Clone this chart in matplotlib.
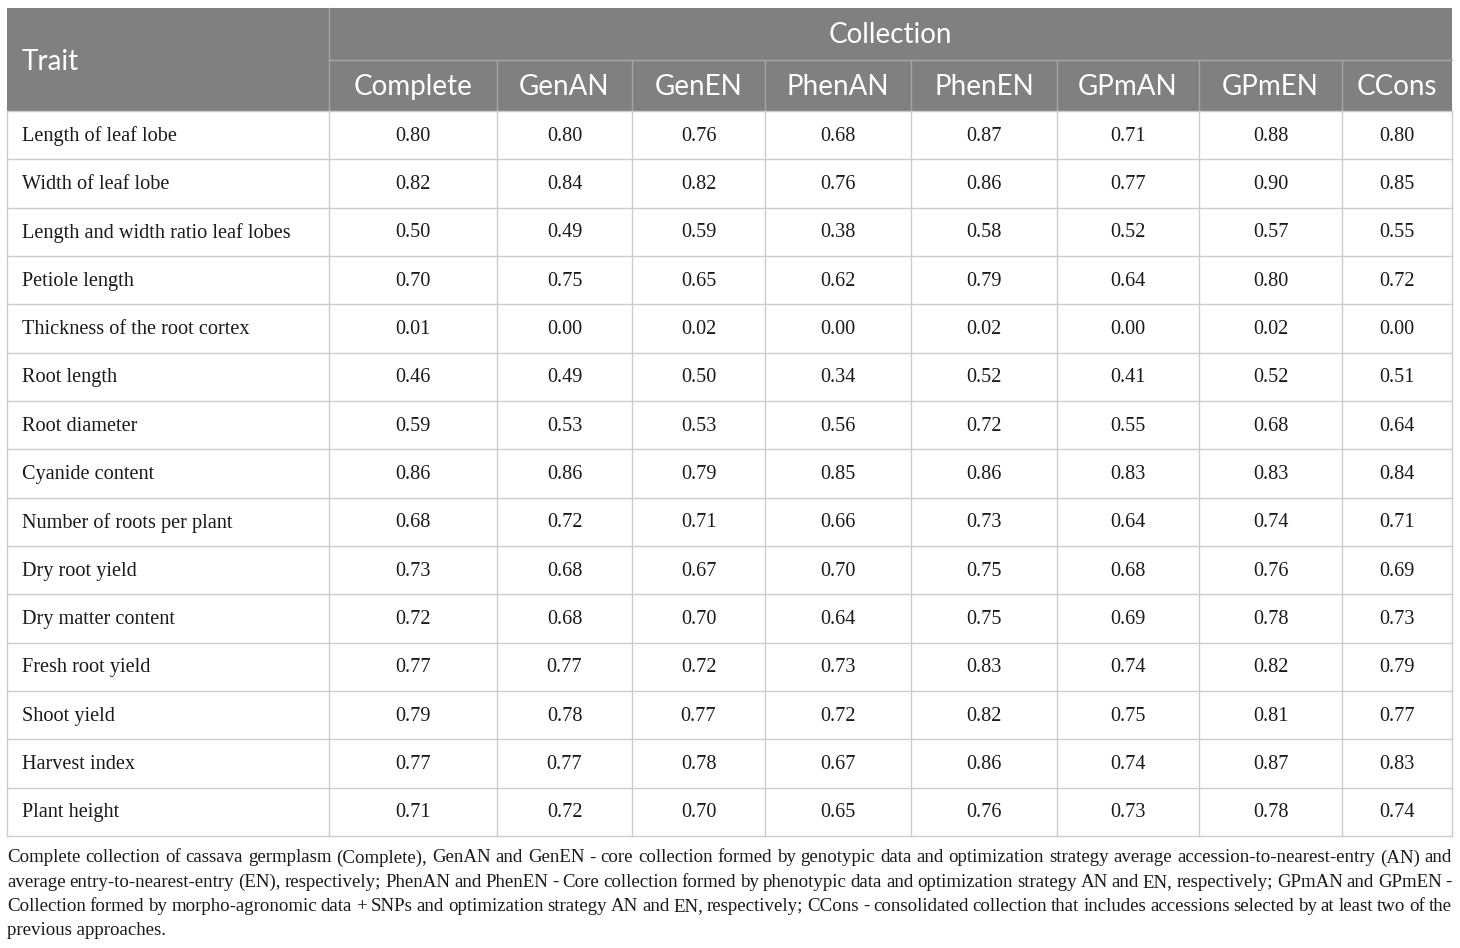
import matplotlib
matplotlib.use("Agg")
import matplotlib.pyplot as plt
from matplotlib.patches import Rectangle

traits = ["Length of leaf lobe", "Width of leaf lobe", "Length and width ratio leaf lobes",
          "Petiole length", "Thickness of the root cortex", "Root length", "Root diameter",
          "Cyanide content", "Number of roots per plant", "Dry root yield", "Dry matter content",
          "Fresh root yield", "Shoot yield", "Harvest index", "Plant height"]
collections = ["Complete", "GenAN", "GenEN", "PhenAN", "PhenEN", "GPmAN", "GPmEN", "CCons"]

complete = [0.80, 0.82, 0.50, 0.70, 0.01, 0.46, 0.59, 0.86, 0.68, 0.73, 0.72, 0.77, 0.79, 0.77, 0.71]
gen_an   = [0.80, 0.84, 0.49, 0.75, 0.00, 0.49, 0.53, 0.86, 0.72, 0.68, 0.68, 0.77, 0.78, 0.77, 0.72]
gen_en   = [0.76, 0.82, 0.59, 0.65, 0.02, 0.50, 0.53, 0.79, 0.71, 0.67, 0.70, 0.72, 0.77, 0.78, 0.70]
phen_an  = [0.68, 0.76, 0.38, 0.62, 0.00, 0.34, 0.56, 0.85, 0.66, 0.70, 0.64, 0.73, 0.72, 0.67, 0.65]
phen_en  = [0.87, 0.86, 0.58, 0.79, 0.02, 0.52, 0.72, 0.86, 0.73, 0.75, 0.75, 0.83, 0.82, 0.86, 0.76]
gpm_an   = [0.71, 0.77, 0.52, 0.64, 0.00, 0.41, 0.55, 0.83, 0.64, 0.68, 0.69, 0.74, 0.75, 0.74, 0.73]
gpm_en   = [0.88, 0.90, 0.57, 0.80, 0.02, 0.52, 0.68, 0.83, 0.74, 0.76, 0.78, 0.82, 0.81, 0.87, 0.78]
ccons    = [0.80, 0.85, 0.55, 0.72, 0.00, 0.51, 0.64, 0.84, 0.71, 0.69, 0.73, 0.79, 0.77, 0.83, 0.74]
columns = [complete, gen_an, gen_en, phen_an, phen_en, gpm_an, gpm_en, ccons]

caption = [
    "Complete collection of cassava germplasm (Complete), GenAN and GenEN - core collection formed by genotypic data and optimization strategy average accession-to-nearest-entry (AN) and",
    "average entry-to-nearest-entry (EN), respectively; PhenAN and PhenEN - Core collection formed by phenotypic data and optimization strategy AN and EN, respectively; GPmAN and GPmEN -",
    "Collection formed by morpho-agronomic data + SNPs and optimization strategy AN and EN, respectively; CCons - consolidated collection that includes accessions selected by at least two of the",
    "previous approaches.",
]

W, H = 1460, 948
fig = plt.figure(figsize=(W / 100, H / 100), dpi=100)
ax = fig.add_axes([0, 0, 1, 1])
ax.set_xlim(0, W)
ax.set_ylim(H, 0)
ax.axis("off")

# column edges in pixels
xs = [7, 329, 497, 632, 765, 911, 1057, 1199, 1342, 1452]
top, h1, h2, bottom = 8, 60, 111, 836
nrows = len(traits)
rh = (bottom - h2) / nrows

hdr_col = "#808080"
hdr_line = "#a6a6a6"
grid = "#cccccc"
txt = "#1a1a1a"
head_font = "Lato"
body_font = "Liberation Serif"
hs, bs, cs = 20, 14.6, 13.55

ax.add_patch(Rectangle((xs[0], top), xs[-1] - xs[0], h2 - top, color=hdr_col, lw=0))
# header separators
ax.plot([xs[1], xs[-1]], [h1, h1], color=hdr_line, lw=1)
ax.plot([xs[1], xs[1]], [top, h2], color=hdr_line, lw=1)
for x in xs[2:-1]:
    ax.plot([x, x], [h1, h2], color=hdr_line, lw=1)

ax.text(22, (top + h2) / 2 + 2, "Trait", color="white", fontsize=hs, family=head_font,
        ha="left", va="center")
ax.text((xs[1] + xs[-1]) / 2, (top + h1) / 2 + 1, "Collection", color="white", fontsize=hs,
        family=head_font, ha="center", va="center")
for j, name in enumerate(collections):
    ax.text((xs[j + 1] + xs[j + 2]) / 2, (h1 + h2) / 2 + 1, name, color="white", fontsize=hs,
            family=head_font, ha="center", va="center")

# body
for i in range(nrows + 1):
    y = h2 + i * rh
    ax.plot([xs[0], xs[-1]], [y, y], color=grid, lw=1)
for x in xs:
    ax.plot([x, x], [h2, bottom], color=grid, lw=1)

for i, trait in enumerate(traits):
    yc = h2 + (i + 0.5) * rh + 1
    ax.text(22, yc, trait, fontsize=bs, family=body_font, color=txt,
            ha="left", va="center")
    for j, col in enumerate(columns):
        ax.text((xs[j + 1] + xs[j + 2]) / 2, yc, f"{col[i]:.2f}", fontsize=bs,
                family=body_font, color=txt, ha="center", va="center")

# justified caption
fig.canvas.draw()
r = fig.canvas.get_renderer()
left, right = 7, 1452
for k, line in enumerate(caption):
    y = 858 + k * 24.3
    words = line.split(" ")
    if k == len(caption) - 1:
        ax.text(left, y, line, fontsize=cs, family=body_font, color=txt,
                ha="left", va="center")
        continue
    objs = [ax.text(0, y, w, fontsize=cs, family=body_font, color=txt,
                    ha="left", va="center") for w in words]
    widths = [t.get_window_extent(renderer=r).width for t in objs]
    gap = (right - left - sum(widths)) / (len(words) - 1)
    x = left
    for t, w in zip(objs, widths):
        t.set_x(x)
        x += w + gap

fig.savefig("out.png", dpi=100)
